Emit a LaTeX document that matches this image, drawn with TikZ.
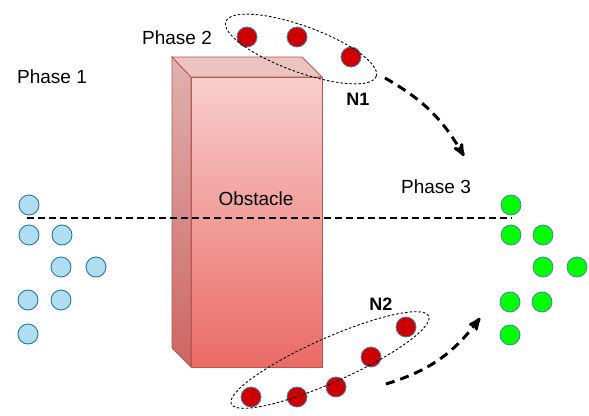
\documentclass[tikz,border=0pt]{standalone}
\usepackage{fontspec}
\setmainfont{Liberation Sans}
\usepackage{tikz}
\usetikzlibrary{shapes,arrows}
\definecolor{bluefill}{HTML}{B1DDF0}
\definecolor{bluedraw}{HTML}{10739E}
\definecolor{greenfill}{HTML}{00FF00}
\definecolor{ringdraw}{HTML}{4A7FB0}
\definecolor{redfill}{HTML}{CC0000}
\definecolor{obsdraw}{HTML}{B85450}
\definecolor{obstop}{HTML}{F8CECC}
\definecolor{obsbottom}{HTML}{EA6B66}
\definecolor{sidetop}{HTML}{DFB2B0}
\definecolor{sidebottom}{HTML}{CD6562}
\definecolor{lidfill}{HTML}{EBC3C1}
\tikzstyle{start} = [circle, draw=bluedraw, fill=bluefill, minimum size=20pt, inner sep=0pt, line width=0.8pt]
\tikzstyle{finish} = [circle, draw=ringdraw, fill=greenfill, minimum size=20pt, inner sep=0pt, line width=0.8pt]
\tikzstyle{agent} = [circle, draw=ringdraw, fill=redfill, minimum size=20pt, inner sep=0pt, line width=0.8pt]
\tikzstyle{group} = [ellipse, draw, inner sep=0pt, line width=0.9pt, dash pattern=on 2.5pt off 2pt]
\tikzstyle{label} = [font=\fontsize{19}{22}\selectfont]
\tikzstyle{tag} = [font=\fontsize{18}{21}\selectfont\bfseries]
\tikzstyle{move} = [draw, line width=3pt, dash pattern=on 9pt off 6pt, -stealth']

\begin{document}
\begin{tikzpicture}[x=1pt, y=-1pt]
    \useasboundingbox (0,0) rectangle (589,415);
    % Obstacle
    \shade[top color=obstop, bottom color=obsbottom, draw=obsdraw, line width=0.8pt]
        (191,77) rectangle (322,367);
    \shade[top color=sidetop, bottom color=sidebottom, draw=obsdraw, line width=0.8pt]
        (172,57) -- (191,77) -- (191,367) -- (172,348) -- cycle;
    \fill[lidfill, draw=obsdraw, line width=0.8pt]
        (172,57) -- (302,57) -- (322,77) -- (191,77) -- cycle;
    \node [label] (obstacle) at (256,199) {Obstacle};

    % Place nodes
    \node [label] (phase1) at (52,77) {Phase 1};
    \node [label] (phase2) at (177,38) {Phase 2};
    \node [label] (phase3) at (436,187) {Phase 3};

    \node [start] (s1) at (29,205) {};
    \node [start] (s2) at (29,235) {};
    \node [start] (s3) at (62,235) {};
    \node [start] (s4) at (61,267) {};
    \node [start] (s5) at (96,267) {};
    \node [start] (s6) at (28,300) {};
    \node [start] (s7) at (61,300) {};
    \node [start] (s8) at (28,334) {};

    \node [finish] (f1) at (511,205) {};
    \node [finish] (f2) at (511,235) {};
    \node [finish] (f3) at (543,235) {};
    \node [finish] (f4) at (543,267) {};
    \node [finish] (f5) at (577,267) {};
    \node [finish] (f6) at (510,302) {};
    \node [finish] (f7) at (542,302) {};
    \node [finish] (f8) at (510,335) {};

    \node [agent] (a1) at (247,37) {};
    \node [agent] (a2) at (297,37) {};
    \node [agent] (a3) at (351,57) {};
    \node [group, minimum width=160pt, minimum height=46pt, rotate=-20] (n1) at (301,49) {};
    \node [tag] (n1tag) at (358,99) {N1};

    \node [agent] (b1) at (251,397) {};
    \node [agent] (b2) at (297,397) {};
    \node [agent] (b3) at (336,387) {};
    \node [agent] (b4) at (371,357) {};
    \node [agent] (b5) at (406,327) {};
    \node [group, minimum width=216pt, minimum height=44pt, rotate=24] (n2) at (330,360) {};
    \node [tag] (n2tag) at (381,304) {N2};

    \coordinate (lineend) at (512,218);
    \coordinate (linestart) at (27,218);
    \coordinate (n1start) at (385,78);
    \coordinate (n1end) at (464,156);
    \coordinate (n2start) at (386,384);
    \coordinate (n2end) at (480,318);

    % Draw edges
    \draw [line width=1.8pt, dash pattern=on 7pt off 4pt] (linestart) -- (lineend);
    \path [move] (n1start) to [bend left=15] (n1end);
    \path [move] (n2start) to [bend right=18] (n2end);
\end{tikzpicture}
\end{document}
